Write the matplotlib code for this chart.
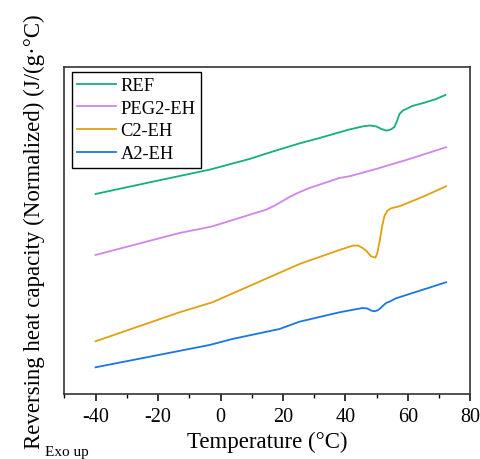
import matplotlib.pyplot as plt
from matplotlib.ticker import MultipleLocator

plt.rcParams['font.family'] = ['Liberation Serif', 'DejaVu Serif']
plt.rcParams['axes.unicode_minus'] = False

# temperature (C) and reversing Cp (normalized, arbitrary offset units)
t_ref = [-40, -20, -3.5, 9.3, 16.6, 25.2, 30.6, 41.3, 45.5, 47.7, 49.9, 51.5, 53.1, 54.5, 55.7, 56.5, 57.3, 58.4, 59.5, 61.4, 65, 69.1, 72]
y_ref = [265, 278.4, 289.3, 300, 307.3, 315.5, 320, 329.5, 332.5, 333.5, 332.5, 330, 328.3, 329.5, 332, 338, 345, 348.5, 350, 353, 356, 360, 364]

t_peg = [-40, -13.1, -3, 14.6, 17.3, 22.1, 25.2, 28.5, 38.1, 41.3, 49.8, 60, 72.2]
y_peg = [204, 226, 232.3, 249.3, 253.3, 262, 266.7, 271, 281, 282.7, 290, 299.5, 311.7]

t_c2 = [-40, -13.1, -2.6, 10, 25.3, 38.1, 42.3, 44, 45.5, 46.6, 48.2, 49.6, 50.2, 50.9, 51.7, 52.5, 53.5, 54.6, 57.3, 65, 72.2]
y_c2 = [117.7, 146.7, 156.7, 174, 195, 209, 213.3, 213.5, 211, 208.3, 202.7, 201.3, 206, 217, 232, 243.3, 248.5, 250.7, 252.7, 262.5, 272.7]

t_a2 = [-40, -3.5, 3.8, 18.9, 25.3, 38.1, 45.5, 47, 48.2, 49.2, 50.2, 50.9, 53, 54.2, 56.2, 65, 72.2]
y_a2 = [91.7, 114, 120, 130, 137.3, 146.7, 151, 150.5, 148.5, 147.7, 148.5, 150, 156, 157.5, 160.7, 169.5, 176.7]

names = ['REF', 'PEG2-EH', 'C2-EH', 'A2-EH']
colors = ['#12b07a', '#cf86e8', '#e0a010', '#1a76e0']

fig = plt.figure(figsize=(4.8, 4.6), dpi=100)
ax = fig.add_axes([0.134, 0.1413, 0.846, 0.711])

for t, y, n, c in zip([t_ref, t_peg, t_c2, t_a2], [y_ref, y_peg, y_c2, y_a2], names, colors):
    ax.plot(t, y, color=c, lw=1.3, label=n)

ax.set_xlim(-50, 80)
ax.set_ylim(65, 392)
ax.xaxis.set_major_locator(MultipleLocator(20))
ax.xaxis.set_minor_locator(MultipleLocator(10))
ax.set_yticks([])
ax.tick_params(axis='x', which='major', direction='out', length=5, width=1.1, labelsize=14.5, pad=4, top=False)
ax.tick_params(axis='x', which='minor', direction='out', length=3, width=1.0, top=False)
for s in ax.spines.values():
    s.set_linewidth(1.2)
    s.set_color('#333333')

ax.set_xlabel('Temperature (°C)', fontsize=16.5, labelpad=4)
ax.set_ylabel('Reversing heat capacity (Normalized) (J/(g·°C)', fontsize=16.5, labelpad=14)
fig.text(0.094, 0.008, 'Exo up', fontsize=11)

leg = ax.legend(loc='upper left', bbox_to_anchor=(0.018, 0.985), borderaxespad=0,
                fontsize=13.3, frameon=True, fancybox=False, edgecolor='black', framealpha=1,
                handlelength=2.1, handletextpad=0.25, labelspacing=0.3, borderpad=0.3)
leg.get_frame().set_linewidth(1.0)

fig.savefig('out.png', dpi=100)
